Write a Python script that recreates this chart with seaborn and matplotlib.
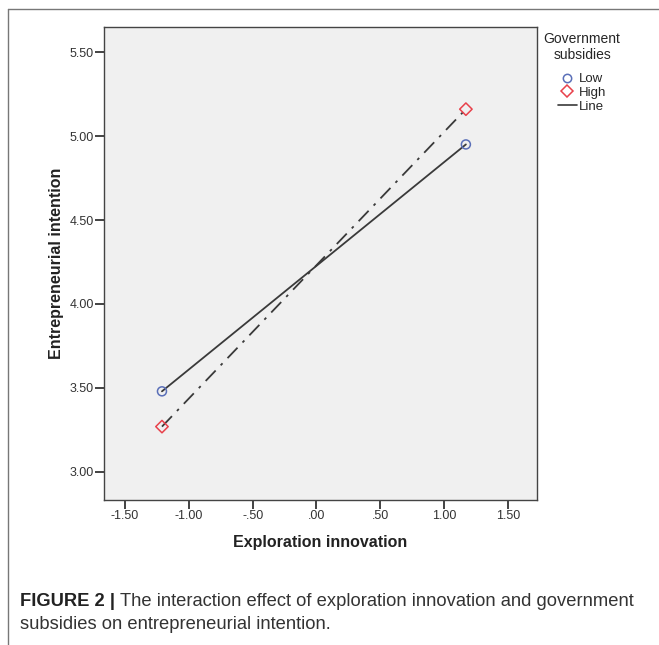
import matplotlib
matplotlib.use("Agg")
import matplotlib.pyplot as plt
from matplotlib.lines import Line2D
import seaborn as sns
import pandas as pd

# values
exploration = [-1.21, 1.17]
low_subsidy = [3.48, 4.95]
high_subsidy = [3.27, 5.16]
x_ticks = [-1.5, -1.0, -0.5, 0.0, 0.5, 1.0, 1.5]
x_tick_labels = ["-1.50", "-1.00", "-.50", ".00", ".50", "1.00", "1.50"]
y_ticks = [3.0, 3.5, 4.0, 4.5, 5.0, 5.5]
y_tick_labels = ["3.00", "3.50", "4.00", "4.50", "5.00", "5.50"]

df = pd.DataFrame({
    "x": exploration * 2,
    "y": low_subsidy + high_subsidy,
    "group": ["Low"] * 2 + ["High"] * 2,
})

sns.set_style("white")
plt.rcParams["font.family"] = ["Liberation Sans", "DejaVu Sans"]

fig = plt.figure(figsize=(6.59, 6.45), dpi=100)
ax = fig.add_axes([0.1578, 0.2248, 0.6571, 0.7333])
ax.set_facecolor("#f0f0f0")

line_color = "#3a3a3a"
sns.lineplot(data=df[df.group == "Low"], x="x", y="y", ax=ax,
             color=line_color, lw=1.3, legend=False)
sns.lineplot(data=df[df.group == "High"], x="x", y="y", ax=ax,
             color=line_color, lw=1.3, legend=False)
ax.lines[-1].set_dashes((8, 4, 1.5, 4))

blue = "#5a6fb8"
red = "#e8414b"
sns.scatterplot(data=df[df.group == "Low"], x="x", y="y", ax=ax, marker="o",
                s=42, facecolors="none", edgecolor=blue, linewidth=1.1,
                legend=False, zorder=5)
sns.scatterplot(data=df[df.group == "High"], x="x", y="y", ax=ax, marker="D",
                s=40, facecolors="none", edgecolor=red, linewidth=1.1,
                legend=False, zorder=5)

ax.set_xlim(-1.664, 1.727)
ax.set_ylim(2.833, 5.649)
ax.set_xticks(x_ticks)
ax.set_xticklabels(x_tick_labels)
ax.set_yticks(y_ticks)
ax.set_yticklabels(y_tick_labels)
ax.tick_params(axis="both", direction="out", length=6.5, width=1.2,
               color="#222222", labelsize=9, labelcolor="#333333", pad=1,
               bottom=True, left=True)
for sp in ax.spines.values():
    sp.set_color("#444444")
    sp.set_linewidth(1.0)

ax.set_xlabel("Exploration innovation", fontsize=11.5, fontweight="bold",
              color="#222222", labelpad=9)
ax.set_ylabel("Entrepreneurial intention", fontsize=11.5, fontweight="bold",
              color="#222222", labelpad=4)

handles = [
    Line2D([], [], marker="o", ls="none", mfc="none", mec=blue, ms=6, mew=1.1),
    Line2D([], [], marker="D", ls="none", mfc="none", mec=red, ms=6, mew=1.1),
    Line2D([], [], color=line_color, lw=1.2),
]
leg = fig.legend(handles, ["Low", "High", "Line"], title="Government\nsubsidies",
                 loc="upper left", bbox_to_anchor=(0.817, 0.959), frameon=False,
                 fontsize=9.5, title_fontsize=10, handlelength=1.5,
                 handletextpad=0.15, labelspacing=0.12, borderaxespad=0)
leg.get_title().set_multialignment("center")
leg._legend_box.sep = 8

# outer frame of the figure panel
fig.add_artist(Line2D([0.012, 1.0], [0.986, 0.986], color="#777777", lw=1.0))
fig.add_artist(Line2D([0.012, 0.012], [0.0, 0.986], color="#777777", lw=1.0))

# caption
fig.text(0.031, 0.060, "FIGURE 2 |", fontsize=13.2, fontweight="bold",
         color="#222222", va="baseline")
fig.text(0.182, 0.060, "The interaction effect of exploration innovation and government",
         fontsize=13.2, color="#333333", va="baseline")
fig.text(0.031, 0.025, "subsidies on entrepreneurial intention.",
         fontsize=13.2, color="#333333", va="baseline")

fig.savefig("out.png", dpi=100)
